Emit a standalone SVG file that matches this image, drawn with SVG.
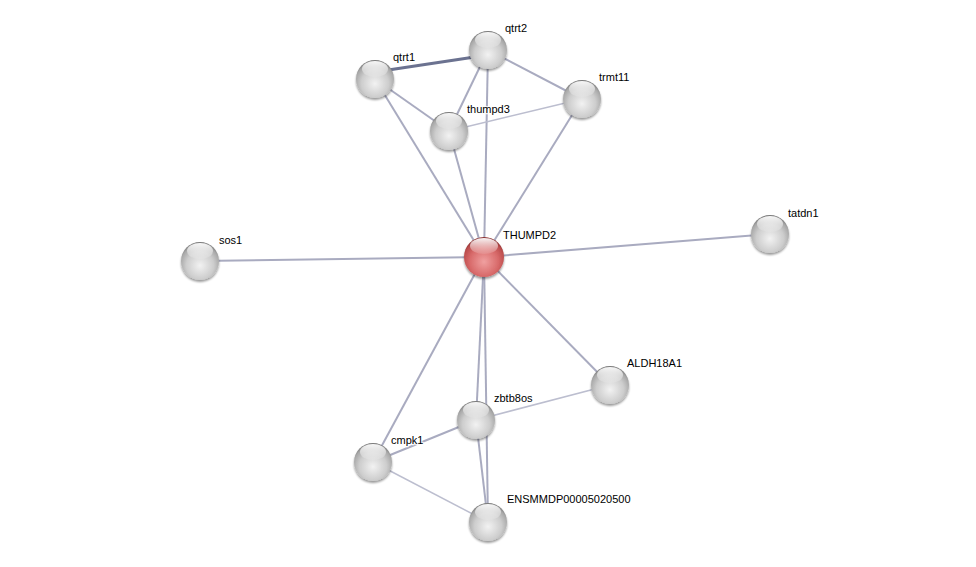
<svg xmlns="http://www.w3.org/2000/svg" width="976" height="567" viewBox="0 0 976 567">
<defs>
<radialGradient id="gw" cx="0.5" cy="0.62" r="0.6">
<stop offset="0" stop-color="#f2f2f2"/>
<stop offset="0.6" stop-color="#cdcdcd"/>
<stop offset="0.88" stop-color="#a8a8a8"/>
<stop offset="1" stop-color="#7a7a7a"/>
</radialGradient>
<radialGradient id="gr" cx="0.5" cy="0.62" r="0.6">
<stop offset="0" stop-color="#f0a0a0"/>
<stop offset="0.6" stop-color="#d86a6a"/>
<stop offset="0.88" stop-color="#bb4d4d"/>
<stop offset="1" stop-color="#8a3030"/>
</radialGradient>
<linearGradient id="hl" x1="0" y1="0" x2="0" y2="1">
<stop offset="0" stop-color="#ffffff" stop-opacity="0.95"/>
<stop offset="1" stop-color="#ffffff" stop-opacity="0.1"/>
</linearGradient>
<filter id="sh" x="-30%" y="-30%" width="160%" height="160%">
<feGaussianBlur in="SourceAlpha" stdDeviation="1.2"/>
<feOffset dx="0" dy="1.5"/>
<feComponentTransfer><feFuncA type="linear" slope="0.4"/></feComponentTransfer>
<feMerge><feMergeNode/><feMergeNode in="SourceGraphic"/></feMerge>
</filter>
</defs>
<style>
.e{stroke:#a9abc0;stroke-width:2;fill:none}
.t{stroke:#bcbecf;stroke-width:1.5;fill:none}
.k{stroke:#6b7290;stroke-width:3.2;fill:none}
.n{fill:url(#gw);filter:url(#sh)}
.r{fill:url(#gr);filter:url(#sh)}
.h{fill:url(#hl)}
text{font-family:"Liberation Sans",Arial,sans-serif;font-size:11px;fill:#000;stroke:#ffffff;stroke-opacity:0.8;stroke-width:2.5px;paint-order:stroke;stroke-linejoin:round}
</style>
<rect width="976" height="567" fill="#ffffff"/>
<g id="edges">
<line class="k" x1="375" y1="72" x2="488" y2="55"/>
<line class="e" x1="375" y1="79" x2="449" y2="131"/>
<line class="e" x1="375" y1="79" x2="484" y2="257"/>
<line class="e" x1="488" y1="50" x2="449" y2="131"/>
<line class="e" x1="488" y1="50" x2="484" y2="257"/>
<line class="e" x1="488" y1="50" x2="582" y2="99"/>
<line class="t" x1="449" y1="131" x2="582" y2="99"/>
<line class="e" x1="449" y1="131" x2="484" y2="257"/>
<line class="e" x1="582" y1="99" x2="484" y2="257"/>
<line class="e" x1="200" y1="261" x2="484" y2="257"/>
<line class="e" x1="770" y1="234" x2="484" y2="257"/>
<line class="e" x1="484" y1="257" x2="610" y2="385"/>
<line class="e" x1="484" y1="257" x2="476" y2="420"/>
<line class="e" x1="484" y1="257" x2="488" y2="522"/>
<line class="e" x1="484" y1="257" x2="373" y2="462"/>
<line class="e" x1="373" y1="462" x2="476" y2="420"/>
<line class="t" x1="373" y1="462" x2="488" y2="522"/>
<line class="e" x1="476" y1="420" x2="488" y2="522"/>
<line class="t" x1="476" y1="420" x2="610" y2="385"/>
</g>
<g id="qtrt1"><circle class="n" cx="375" cy="79" r="19"/><ellipse class="h" cx="375" cy="69" rx="13" ry="8"/><text x="393" y="61">qtrt1</text></g>
<g id="qtrt2"><circle class="n" cx="488" cy="50" r="19"/><ellipse class="h" cx="488" cy="40" rx="13" ry="8"/><text x="505" y="32">qtrt2</text></g>
<g id="trmt11"><circle class="n" cx="582" cy="99" r="19"/><ellipse class="h" cx="582" cy="89" rx="13" ry="8"/><text x="599" y="81">trmt11</text></g>
<g id="thumpd3"><circle class="n" cx="449" cy="131" r="19"/><ellipse class="h" cx="449" cy="121" rx="13" ry="8"/><text x="467" y="113">thumpd3</text></g>
<g id="THUMPD2"><circle class="r" cx="484" cy="257" r="20"/><ellipse class="h" cx="484" cy="246" rx="14" ry="8"/><text x="503" y="239">THUMPD2</text></g>
<g id="sos1"><circle class="n" cx="200" cy="261" r="19"/><ellipse class="h" cx="200" cy="251" rx="13" ry="8"/><text x="219" y="244">sos1</text></g>
<g id="tatdn1"><circle class="n" cx="770" cy="234" r="19"/><ellipse class="h" cx="770" cy="224" rx="13" ry="8"/><text x="788" y="217">tatdn1</text></g>
<g id="ALDH18A1"><circle class="n" cx="610" cy="385" r="19"/><ellipse class="h" cx="610" cy="375" rx="13" ry="8"/><text x="627" y="367">ALDH18A1</text></g>
<g id="zbtb8os"><circle class="n" cx="476" cy="420" r="19"/><ellipse class="h" cx="476" cy="410" rx="13" ry="8"/><text x="494" y="402">zbtb8os</text></g>
<g id="cmpk1"><circle class="n" cx="373" cy="462" r="19"/><ellipse class="h" cx="373" cy="452" rx="13" ry="8"/><text x="391" y="444">cmpk1</text></g>
<g id="ENSMMDP00005020500"><circle class="n" cx="488" cy="522" r="19"/><ellipse class="h" cx="488" cy="512" rx="13" ry="8"/><text x="507" y="503">ENSMMDP00005020500</text></g>
</svg>
